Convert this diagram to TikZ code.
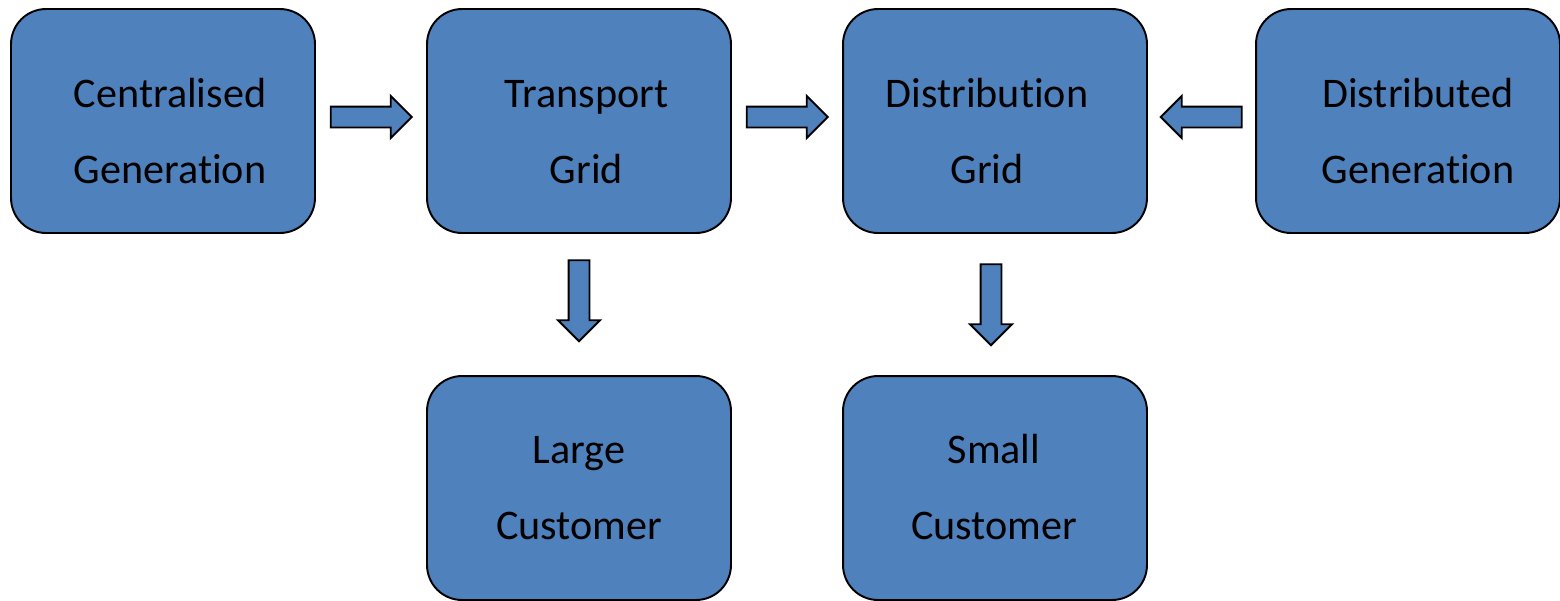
\documentclass[tikz,border=0pt]{standalone}
\usepackage{fontspec}
\setmainfont[Ligatures=NoCommon]{Carlito}
\usetikzlibrary{shapes.arrows,calc}
\definecolor{boxblue}{HTML}{4F81BD}
\begin{document}
\begin{tikzpicture}[x=0.02cm,y=-0.02cm,
  unitbox/.style={draw=black, line width=1.1pt, fill=boxblue, rounded corners=0.7cm,
    minimum width=6.08cm, minimum height=4.48cm, inner sep=0pt},
  boxtext/.style={align=center, font=\fontsize{24pt}{43.25pt}\selectfont, inner sep=0pt},
  flow/.style={single arrow, draw=black, line width=1.1pt, fill=boxblue,
    minimum height=1.62cm, inner sep=0.19cm, single arrow head extend=0.21cm,
    anchor=center},
]
\useasboundingbox (0,0) rectangle (1560,600);

% grid elements
\node[unitbox] (cg)  at (163,121)  {};
\node[unitbox] (tg)  at (579,121)  {};
\node[unitbox] (dg)  at (995,121)  {};
\node[unitbox] (dgn) at (1408,121) {};
\node[unitbox] (lc)  at (579,488)  {};
\node[unitbox] (sc)  at (995,488)  {};

% labels
\node[boxtext] (cg-t)  at ($(cg.center)+(7,9)$)    {\strut Centralised\\\strut Generation};
\node[boxtext] (tg-t)  at ($(tg.center)+(7.5,9)$)  {\strut Transport\\\strut Grid};
\node[boxtext] (dg-t)  at ($(dg.center)+(-8,9)$)   {\strut Distribution\\\strut Grid};
\node[boxtext] (dgn-t) at ($(dgn.center)+(10,9)$)  {\strut Distributed\\\strut Generation};
\node[boxtext] (lc-t)  at ($(lc.center)+(0,-2)$)   {\strut Large\\\strut Customer};
\node[boxtext] (sc-t)  at ($(sc.center)+(-1,-2)$)  {\strut Small\\\strut Customer};

% power flows
\node[flow, shape border rotate=0]   (f1) at ($(cg.east)!0.5!(tg.west)+(-5,-4)$) {};
\node[flow, shape border rotate=0]   (f2) at ($(tg.east)!0.5!(dg.west)+(-5,-4)$) {};
\node[flow, shape border rotate=180] (f3) at ($(dgn.west)!0.5!(dg.east)+(5,-4)$) {};
\node[flow, shape border rotate=270] (f4) at ($(tg.south)!0.5!(lc.north)+(0,-9)$) {};
\node[flow, shape border rotate=270] (f5) at ($(dg.south)!0.5!(sc.north)+(-4,-5)$) {};
\end{tikzpicture}
\end{document}
